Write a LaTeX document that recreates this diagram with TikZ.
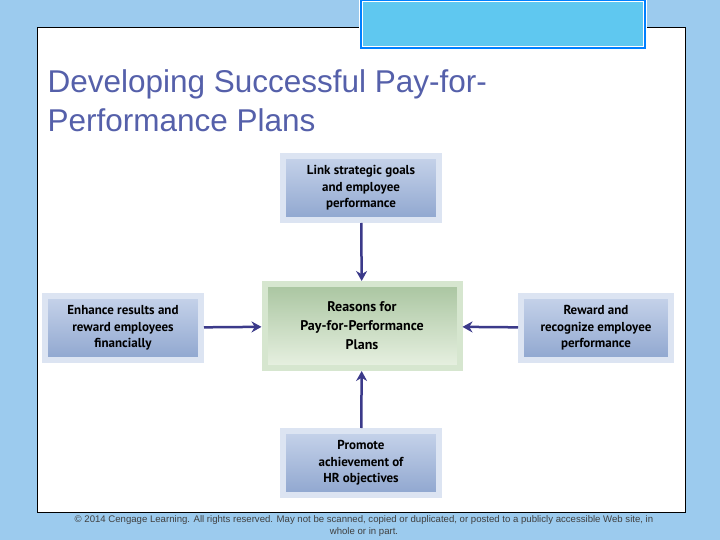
\documentclass[tikz,border=0pt]{standalone}
\usepackage{fontspec}
\setmainfont{Liberation Sans}
\newfontfamily\boxfont{PT Sans}
\usetikzlibrary{arrows.meta,shadows}
\definecolor{titleblue}{HTML}{5560AA}
\definecolor{arrowc}{HTML}{3B3A8A}
\definecolor{bgblue}{HTML}{9CCBEE}
\definecolor{topbox}{HTML}{5FC8F0}
\definecolor{boxtop}{HTML}{C6D3EA}
\definecolor{boxbot}{HTML}{8FA6CF}
\definecolor{boxrim}{HTML}{DCE4F2}
\definecolor{gtop}{HTML}{A9C5A0}
\definecolor{gbot}{HTML}{E8F1E2}
\definecolor{grim}{HTML}{D6E6CF}
\begin{document}
\begin{tikzpicture}[x=1pt,y=-1pt,
  bluebox/.style={draw=boxrim,line width=6pt,top color=boxtop,bottom color=boxbot,
    minimum width=#1,minimum height=64pt,inner sep=0pt,align=center,font=\boxfont\bfseries\fontsize{13}{16.5}\selectfont,
    drop shadow={shadow xshift=3pt,shadow yshift=-3pt,opacity=0.3}},
  greenbox/.style={draw=grim,line width=6pt,top color=gtop,bottom color=gbot,
    minimum width=195pt,minimum height=84pt,align=center,font=\boxfont\bfseries\fontsize{14}{19}\selectfont,
    drop shadow={shadow xshift=3pt,shadow yshift=-3pt,opacity=0.3}},
  arr/.style={draw=arrowc,line width=2.5pt,-{Stealth[length=10pt,width=11pt]}}]
\useasboundingbox (0,0) rectangle (720,540);
\fill[bgblue] (0,0) rectangle (720,540);
\fill[white,draw=black,line width=0.8pt] (37,27) rectangle (685,512);
\node[draw=white,line width=1pt,fill=topbox,minimum width=284pt,minimum height=48pt,outer sep=0pt,
  double=blue!50!cyan,double distance=1.2pt] (hdr) at (503,24) {};
\node[anchor=west,text=titleblue,align=left,font=\fontsize{31.5}{39}\selectfont] (title) at (44,101)
  {Developing Successful Pay-for-\\Performance Plans};
\node[bluebox=156pt] (top) at (361,188) {Link strategic goals\\and employee\\performance};
\node[greenbox] (mid) at (362,326) {Reasons for\\Pay-for-Performance\\Plans};
\node[bluebox=156pt] (left) at (123,328) {Enhance results and\\reward employees\\financially};
\node[bluebox=150pt] (right) at (596,328) {Reward and\\recognize employee\\performance};
\node[bluebox=156pt] (bot) at (361,463) {Promote\\achievement of\\HR objectives};
\draw[arr] (top) -- (mid);
\draw[arr] (left) -- (mid);
\draw[arr] (right) -- (mid);
\draw[arr] (bot) -- (mid);
\node[align=center,text=black!75,font=\fontsize{9.6}{12.5}\selectfont] (foot) at (364,526)
  {\textcopyright{} 2014 Cengage Learning. All rights reserved. May not be scanned, copied or duplicated, or posted to a publicly accessible Web site, in\\whole or in part.};
\end{tikzpicture}
\end{document}
